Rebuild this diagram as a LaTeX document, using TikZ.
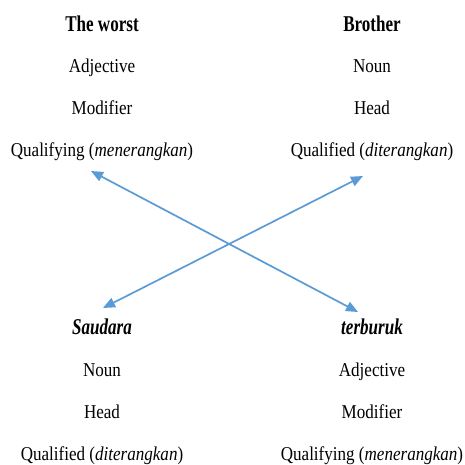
\documentclass[tikz,border=0pt]{standalone}
\usepackage{fontspec}
\setmainfont{Liberation Serif}[FakeStretch=0.87]
\usetikzlibrary{arrows.meta}
\definecolor{linkblue}{HTML}{5B9BD5}
\newcommand{\headword}[1]{\scalebox{1}[1.15]{\textbf{#1}}}
\begin{document}
\begin{tikzpicture}[x=1pt,y=-1pt,
  word/.style={anchor=base,inner sep=0pt,font=\fontsize{19.6}{24}\selectfont},
  link/.style={draw=linkblue,line width=1.7pt,
    {Triangle[length=12pt,width=10pt]}-{Triangle[length=12pt,width=10pt]}}]
\useasboundingbox (0,0) rectangle (465,464);
% English phrase
\node[word] (w1) at (102,31) {\headword{The worst}};
\node[word] (w2) at (102,72) {Adjective};
\node[word] (w3) at (102,114) {Modifier};
\node[word] (w4) at (102,156) {Qualifying (\textit{menerangkan})};
\node[word] (b1) at (372,31) {\headword{Brother}};
\node[word] (b2) at (372,72) {Noun};
\node[word] (b3) at (372,114) {Head};
\node[word] (b4) at (372,156) {Qualified (\textit{diterangkan})};
% Indonesian phrase
\node[word] (s1) at (102,334) {\headword{\textit{Saudara}}};
\node[word] (s2) at (102,376) {Noun};
\node[word] (s3) at (102,418) {Head};
\node[word] (s4) at (102,460) {Qualified (\textit{diterangkan})};
\node[word] (t1) at (372,334) {\headword{\textit{terburuk}}};
\node[word] (t2) at (372,376) {Adjective};
\node[word] (t3) at (372,418) {Modifier};
\node[word] (t4) at (372,460) {Qualifying (\textit{menerangkan})};
% arrow ends
\coordinate (qa) at (91,171);
\coordinate (qb) at (358,312);
\coordinate (ha) at (363,176);
\coordinate (hb) at (103,308);
\draw[link] (qa) -- (qb);
\draw[link] (ha) -- (hb);
\end{tikzpicture}
\end{document}
